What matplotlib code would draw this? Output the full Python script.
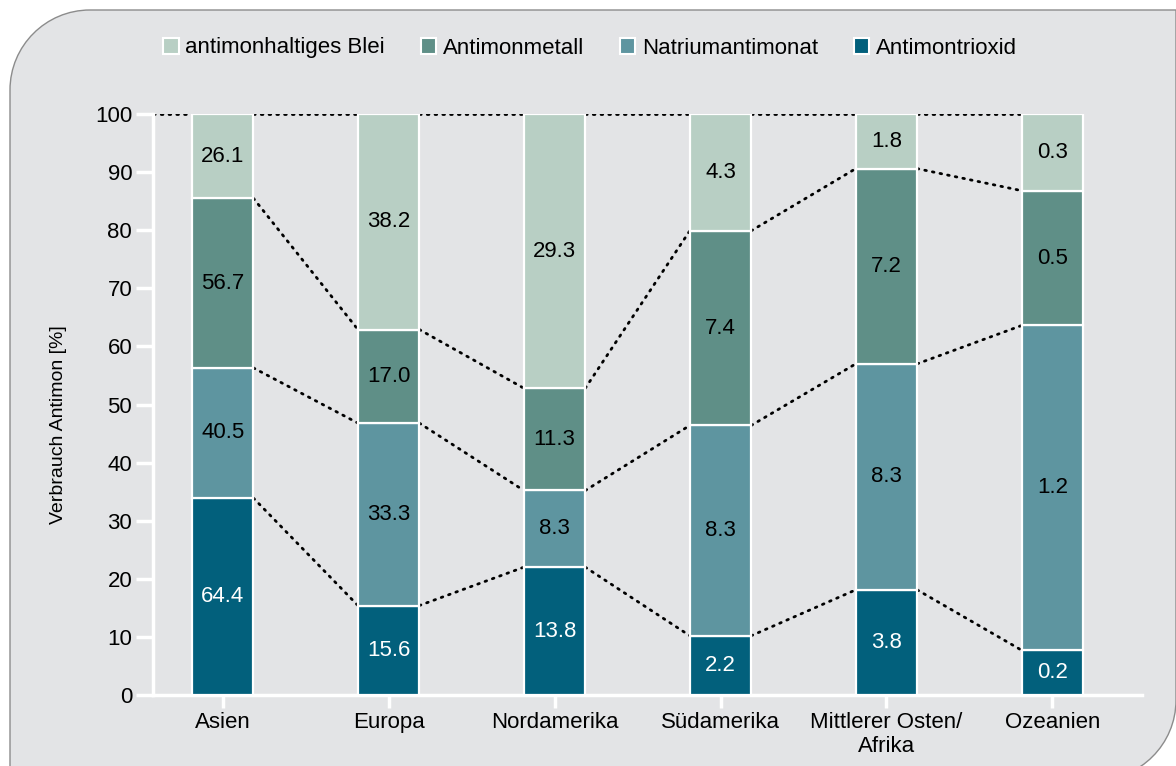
import numpy as np
import matplotlib
matplotlib.use("Agg")
import matplotlib.pyplot as plt
from matplotlib.path import Path
from matplotlib.patches import PathPatch, Patch

plt.rcParams["font.family"] = ["Liberation Sans", "DejaVu Sans"]

regions = ["Asien", "Europa", "Nordamerika", "Südamerika", "Mittlerer Osten/\nAfrika", "Ozeanien"]
series = ["Antimontrioxid", "Natriumantimonat", "Antimonmetall", "antimonhaltiges Blei"]
# labelled values
trioxid = [64.4, 15.6, 13.8, 2.2, 3.8, 0.2]
natrium = [40.5, 33.3, 8.3, 8.3, 8.3, 1.2]
metall = [56.7, 17.0, 11.3, 7.4, 7.2, 0.5]
blei = [26.1, 38.2, 29.3, 4.3, 1.8, 0.3]
# segment heights in %
trioxid_pct = [33.9, 15.4, 22.0, 10.2, 18.1, 7.7]
natrium_pct = [22.4, 31.4, 13.2, 36.2, 38.9, 55.9]
metall_pct = [29.2, 16.1, 17.6, 33.5, 33.6, 23.2]
blei_pct = [14.5, 37.1, 47.2, 20.1, 9.4, 13.2]

colors = ["#02607c", "#5e95a0", "#5f8f87", "#b8cfc4"]
text_colors = ["white", "black", "black", "black"]

BG = "#e3e4e6"
W, H = 1176, 766

fig = plt.figure(figsize=(W / 100, H / 100), dpi=100)
fig.patch.set_facecolor("white")

# gray panel with rounded top-left and bottom-right corners (pixel coords, origin top-left)
r = 80
x0, y0, x1, y1 = 10, 10, 1176, 780
k = 0.5523
pts = [(x0, y0 + r)]
codes = [Path.MOVETO]
pts += [(x0, y0 + r - k * r), (x0 + r - k * r, y0), (x0 + r, y0)]
codes += [Path.CURVE4] * 3
pts += [(x1, y0), (x1, y1 - r)]
codes += [Path.LINETO, Path.LINETO]
pts += [(x1, y1 - r + k * r), (x1 - r + k * r, y1), (x1 - r, y1)]
codes += [Path.CURVE4] * 3
pts += [(x0, y1), (x0, y0 + r)]
codes += [Path.LINETO, Path.LINETO]
pts = [(px / W, 1 - py / H) for px, py in pts]
panel = PathPatch(Path(pts, codes), facecolor=BG, edgecolor="#8c8c8c", lw=1.0,
                  transform=fig.transFigure, zorder=-5)
fig.patches.append(panel)

ax = fig.add_axes([153 / W, 1 - 695 / H, (1142 - 153) / W, (695 - 114) / H])
ax.set_facecolor("none")

data = np.array([trioxid, natrium, metall, blei])
pct = np.array([trioxid_pct, natrium_pct, metall_pct, blei_pct])
cum = np.vstack([np.zeros(len(regions)), np.cumsum(pct, axis=0)])

x = np.arange(len(regions))
bw = 0.37
for i, name in enumerate(series):
    ax.bar(x, pct[i], bw, bottom=cum[i], color=colors[i], edgecolor="white",
           linewidth=1.6, label=name, zorder=3)
    for j in range(len(regions)):
        ax.text(x[j], cum[i, j] + pct[i, j] / 2, f"{data[i, j]:.1f}", ha="center",
                va="center", fontsize=16, color=text_colors[i], zorder=4)

# dotted connectors between bars
dot = dict(color="black", lw=2.0, ls=(0, (0.6, 2.2)), dash_capstyle="round", zorder=2)
xl = -0.42
ax.plot([xl, x[0] - bw / 2], [100, 100], **dot)
for j in range(len(regions) - 1):
    for lvl in range(1, 5):
        ax.plot([x[j] + bw / 2, x[j + 1] - bw / 2], [cum[lvl, j], cum[lvl, j + 1]], **dot)

ax.set_xlim(xl, 5.54)
ax.set_ylim(0, 100)
ax.set_yticks(range(0, 101, 10))
ax.set_xticks(x)
ax.set_xticklabels(regions, fontsize=16)
ax.tick_params(axis="y", colors="white", length=12, width=2.5, labelsize=16,
               labelcolor="black", pad=3)
ax.tick_params(axis="x", colors="white", length=9, width=2.5, labelcolor="black", pad=3)
for sp in ("top", "right"):
    ax.spines[sp].set_visible(False)
for sp in ("left", "bottom"):
    ax.spines[sp].set_color("white")
    ax.spines[sp].set_linewidth(2.5)
ax.set_ylabel("Verbrauch Antimon [%]", fontsize=14)
ax.yaxis.set_label_coords(-0.087, 0.465)

handles = [Patch(facecolor=colors[i], edgecolor="white", lw=1.5) for i in (3, 2, 1, 0)]
labels = [series[i] for i in (3, 2, 1, 0)]
fig.legend(handles, labels, loc="center", bbox_to_anchor=(590 / W, 1 - 48 / H), ncol=4,
           frameon=False, fontsize=16, handlelength=0.7, handleheight=0.7,
           handletextpad=0.3, columnspacing=1.6)

fig.savefig("out.png", dpi=100, facecolor="white")
